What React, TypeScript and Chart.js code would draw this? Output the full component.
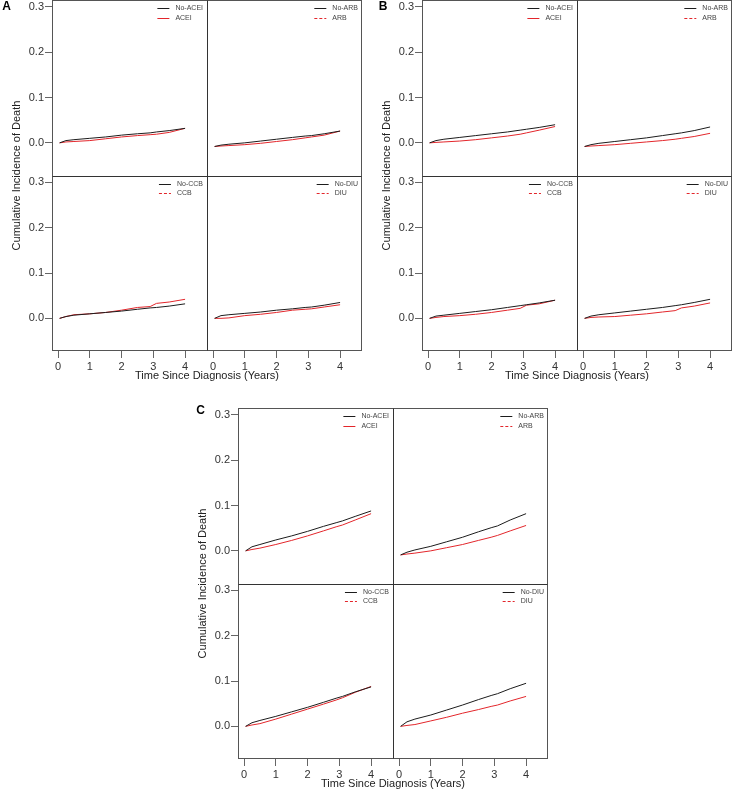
import React, { useEffect, useRef } from "react";
import { Chart, registerables } from "chart.js";

Chart.register(...registerables);

// ---------------- data ----------------
const timeYears = [0.05, 0.25, 0.5, 1, 1.5, 2, 2.5, 2.9, 3.1, 3.5, 4];
const xTickValues = [0, 1, 2, 3, 4];
const yTickValues = [0, 0.1, 0.2, 0.3];
const X_MIN = -0.19;
const X_MAX = 4.69;
const Y_MIN = -0.072;
const Y_MAX = 0.315;

const xTitle = "Time Since Diagnosis (Years)";
const yTitle = "Cumulative Incidence of Death";
const drugClasses = ["ACEI", "ARB", "CCB", "DIU"];

// Panel A
const A_noACEI = [0, 0.005, 0.007, 0.01, 0.013, 0.017, 0.02, 0.022, 0.024, 0.027, 0.032];
const A_ACEI = [0, 0.002, 0.003, 0.005, 0.009, 0.013, 0.016, 0.018, 0.019, 0.023, 0.032];
const A_noARB = [-0.008, -0.005, -0.003, 0.0, 0.004, 0.008, 0.012, 0.015, 0.016, 0.02, 0.026];
const A_ARB = [-0.008, -0.007, -0.006, -0.004, -0.001, 0.003, 0.007, 0.011, 0.013, 0.017, 0.026];
const A_noCCB = [0, 0.004, 0.007, 0.01, 0.013, 0.016, 0.02, 0.023, 0.024, 0.027, 0.032];
const A_CCB = [0, 0.004, 0.008, 0.01, 0.013, 0.018, 0.024, 0.026, 0.033, 0.036, 0.042];
const A_noDIU = [0, 0.006, 0.008, 0.011, 0.014, 0.018, 0.021, 0.024, 0.025, 0.029, 0.035];
const A_DIU = [0, 0.0, 0.001, 0.006, 0.009, 0.013, 0.018, 0.02, 0.021, 0.025, 0.03];

// Panel B
const B_noACEI = [0, 0.005, 0.008, 0.012, 0.016, 0.02, 0.024, 0.028, 0.03, 0.034, 0.04];
const B_ACEI = [0, 0.001, 0.002, 0.004, 0.007, 0.011, 0.015, 0.019, 0.022, 0.028, 0.036];
const B_noARB = [-0.008, -0.004, -0.001, 0.003, 0.007, 0.011, 0.016, 0.02, 0.022, 0.027, 0.035];
const B_ARB = [-0.008, -0.007, -0.006, -0.004, -0.001, 0.002, 0.005, 0.008, 0.01, 0.014, 0.021];
const B_noCCB = [0, 0.005, 0.007, 0.011, 0.015, 0.019, 0.024, 0.028, 0.03, 0.034, 0.04];
const B_CCB = [0, 0.002, 0.004, 0.006, 0.009, 0.013, 0.018, 0.022, 0.029, 0.032, 0.04];
const B_noDIU = [0, 0.005, 0.008, 0.012, 0.016, 0.02, 0.024, 0.028, 0.03, 0.035, 0.042];
const B_DIU = [0, 0.002, 0.003, 0.004, 0.007, 0.01, 0.014, 0.017, 0.023, 0.027, 0.034];

// Panel C
const C_noACEI = [0, 0.009, 0.014, 0.024, 0.033, 0.043, 0.054, 0.062, 0.066, 0.076, 0.088];
const C_ACEI = [0, 0.003, 0.006, 0.014, 0.023, 0.033, 0.044, 0.053, 0.057, 0.068, 0.082];
const C_noARB = [-0.009, -0.003, 0.002, 0.01, 0.02, 0.03, 0.042, 0.051, 0.055, 0.068, 0.082];
const C_ARB = [-0.009, -0.007, -0.005, 0.0, 0.007, 0.014, 0.023, 0.03, 0.034, 0.044, 0.056];
const C_noCCB = [0, 0.008, 0.013, 0.022, 0.032, 0.042, 0.053, 0.062, 0.066, 0.076, 0.087];
const C_CCB = [0, 0.003, 0.006, 0.016, 0.027, 0.038, 0.049, 0.058, 0.063, 0.075, 0.088];
const C_noDIU = [0, 0.01, 0.016, 0.025, 0.036, 0.047, 0.059, 0.068, 0.072, 0.083, 0.095];
const C_DIU = [0, 0.002, 0.004, 0.012, 0.02, 0.029, 0.037, 0.044, 0.047, 0.056, 0.066];

// ---------------- styling ----------------
const FONT = '"Liberation Sans", Arial, Helvetica, sans-serif';
const BLACK = "#1c1c1c";
const RED = "#e3262b";
const FRAME = "#555555";
const SEP = "#333333";
const TICK = "#666666";
const TEXT = "#333333";
const Y_AXIS_W = 32;

const subplotAxes = [
  { xId: "xL", yId: "yT" },
  { xId: "xR", yId: "yT" },
  { xId: "xL", yId: "yB" },
  { xId: "xR", yId: "yB" },
];

type PanelSpec = {
  letter: string;
  left: number;
  top: number;
  width: number;
  height: number;
  pad: { left: number; top: number; right: number; bottom: number };
  letterX: number;
  letterY: number;
  series: number[][][]; // [subplot][no, yes]
};

const panels: PanelSpec[] = [
  {
    letter: "A", left: 0, top: 0, width: 366, height: 385,
    pad: { left: 52 - Y_AXIS_W, top: 0, right: 4, bottom: 14 }, letterX: 6.5, letterY: 7,
    series: [[A_noACEI, A_ACEI], [A_noARB, A_ARB], [A_noCCB, A_CCB], [A_noDIU, A_DIU]],
  },
  {
    letter: "B", left: 370, top: 0, width: 363, height: 385,
    pad: { left: 52 - Y_AXIS_W, top: 0, right: 1, bottom: 14 }, letterX: 13, letterY: 7,
    series: [[B_noACEI, B_ACEI], [B_noARB, B_ARB], [B_noCCB, B_CCB], [B_noDIU, B_DIU]],
  },
  {
    letter: "C", left: 186, top: 398, width: 366, height: 392,
    pad: { left: 52 - Y_AXIS_W, top: 10, right: 4, bottom: 11 }, letterX: 14.5, letterY: 12.5,
    series: [[C_noACEI, C_ACEI], [C_noARB, C_ARB], [C_noCCB, C_CCB], [C_noDIU, C_DIU]],
  },
];

const decorPlugin = {
  id: "decor",
  afterDatasetsDraw(chart: any, _args: any, opts: any) {
    const ctx = chart.ctx as CanvasRenderingContext2D;
    const ca = chart.chartArea;
    const xL = chart.scales.xL;
    const yT = chart.scales.yT;
    ctx.save();
    const l = Math.round(ca.left) + 0.5;
    const r = Math.round(ca.right) - 0.5;
    const t = Math.round(ca.top) + 0.5;
    const b = Math.round(ca.bottom) - 0.5;
    // frame
    ctx.strokeStyle = FRAME;
    ctx.lineWidth = 1;
    ctx.setLineDash([]);
    ctx.strokeRect(l, t, r - l, b - t);
    // separators
    ctx.strokeStyle = SEP;
    const sx = Math.round(xL.right) + 0.5;
    const sy = Math.round(yT.bottom) + 0.5;
    ctx.beginPath();
    ctx.moveTo(sx, t);
    ctx.lineTo(sx, b);
    ctx.moveTo(l, sy);
    ctx.lineTo(r, sy);
    ctx.stroke();

    // legends
    ctx.font = `7px ${FONT}`;
    ctx.textBaseline = "middle";
    ctx.textAlign = "left";
    subplotAxes.forEach((ax, i) => {
      const xs = chart.scales[ax.xId];
      const ys = chart.scales[ax.yId];
      const drug = drugClasses[i];
      const labels = ["No-" + drug, drug];
      const w = Math.max(...labels.map((s) => ctx.measureText(s).width));
      const tx = xs.right - 4 - w;
      labels.forEach((lab, k) => {
        const yy = Math.round(ys.top + 8 + k * 9.5) + 0.5;
        ctx.beginPath();
        ctx.strokeStyle = k === 0 ? BLACK : RED;
        ctx.setLineDash(k === 1 && drug !== "ACEI" ? [3, 2] : []);
        ctx.moveTo(tx - 18, yy);
        ctx.lineTo(tx - 6, yy);
        ctx.stroke();
        ctx.setLineDash([]);
        ctx.fillStyle = "#444";
        ctx.fillText(lab, tx, yy);
      });
    });

    // axis titles
    ctx.fillStyle = "#222";
    ctx.font = `11px ${FONT}`;
    ctx.textAlign = "center";
    ctx.textBaseline = "middle";
    ctx.fillText(xTitle, (ca.left + ca.right) / 2, ca.bottom + 25);
    ctx.save();
    ctx.translate(17, (ca.top + ca.bottom) / 2);
    ctx.rotate(-Math.PI / 2);
    ctx.fillText(yTitle, 0, 0);
    ctx.restore();

    // panel letter
    ctx.fillStyle = "#000";
    ctx.font = `bold 12px ${FONT}`;
    ctx.fillText(opts.letter, opts.letterX, opts.letterY);
    ctx.restore();
  },
};

function xScale(weight: number) {
  return {
    type: "linear",
    position: "bottom",
    stack: "x",
    stackWeight: 1,
    weight,
    min: X_MIN,
    max: X_MAX,
    afterBuildTicks: (s: any) => {
      s.ticks = xTickValues.map((v) => ({ value: v }));
    },
    afterFit: (s: any) => {
      s.height = 20;
      s.paddingLeft = 0;
      s.paddingRight = 0;
    },
    border: { display: false },
    grid: { drawOnChartArea: false, drawTicks: true, tickLength: 7, color: TICK, lineWidth: 1 },
    ticks: {
      padding: 2,
      autoSkip: false,
      maxRotation: 0,
      color: TEXT,
      font: { family: FONT, size: 11 },
      callback: (v: any) => String(v),
    },
  };
}

function yScale(weight: number) {
  return {
    type: "linear",
    position: "left",
    stack: "y",
    stackWeight: 1,
    weight,
    min: Y_MIN,
    max: Y_MAX,
    afterBuildTicks: (s: any) => {
      s.ticks = yTickValues.map((v) => ({ value: v }));
    },
    afterFit: (s: any) => {
      s.width = Y_AXIS_W;
      s.paddingTop = 0;
      s.paddingBottom = 0;
    },
    border: { display: false },
    grid: { drawOnChartArea: false, drawTicks: true, tickLength: 7, color: TICK, lineWidth: 1 },
    ticks: {
      padding: 1,
      color: TEXT,
      font: { family: FONT, size: 11 },
      callback: (v: any) => Number(v).toFixed(1),
    },
  };
}

function Panel({ spec }: { spec: PanelSpec }) {
  const ref = useRef<HTMLCanvasElement | null>(null);
  useEffect(() => {
    if (!ref.current) return;
    const datasets: any[] = [];
    subplotAxes.forEach((ax, i) => {
      const [noVals, yesVals] = spec.series[i];
      const drug = drugClasses[i];
      datasets.push({
        label: "No-" + drug,
        data: timeYears.map((t, k) => ({ x: t, y: noVals[k] })),
        xAxisID: ax.xId,
        yAxisID: ax.yId,
        borderColor: BLACK,
        borderWidth: 1,
        pointRadius: 0,
        fill: false,
        tension: 0,
      });
      datasets.push({
        label: drug,
        data: timeYears.map((t, k) => ({ x: t, y: yesVals[k] })),
        xAxisID: ax.xId,
        yAxisID: ax.yId,
        borderColor: RED,
        borderWidth: 1,
        pointRadius: 0,
        fill: false,
        tension: 0,
      });
    });
    const chart = new Chart(ref.current, {
      type: "line",
      data: { datasets },
      options: {
        animation: false,
        responsive: false,
        maintainAspectRatio: false,
        devicePixelRatio: 1,
        layout: { padding: spec.pad },
        plugins: {
          legend: { display: false },
          tooltip: { enabled: false },
          decor: { letter: spec.letter, letterX: spec.letterX, letterY: spec.letterY },
        } as any,
        scales: {
          xL: xScale(0),
          xR: xScale(1),
          yT: yScale(1),
          yB: yScale(0),
        } as any,
      },
      plugins: [decorPlugin as any],
    } as any);
    return () => chart.destroy();
  }, [spec]);
  return (
    <canvas
      ref={ref}
      width={spec.width}
      height={spec.height}
      style={{
        position: "absolute",
        left: spec.left,
        top: spec.top,
        width: spec.width,
        height: spec.height,
        display: "block",
      }}
    />
  );
}

export default function App() {
  return (
    <div
      style={{
        position: "absolute",
        left: 0,
        top: 0,
        width: 733,
        height: 789,
        overflow: "hidden",
        background: "#ffffff",
      }}
    >
      {panels.map((p) => (
        <Panel key={p.letter} spec={p} />
      ))}
    </div>
  );
}
